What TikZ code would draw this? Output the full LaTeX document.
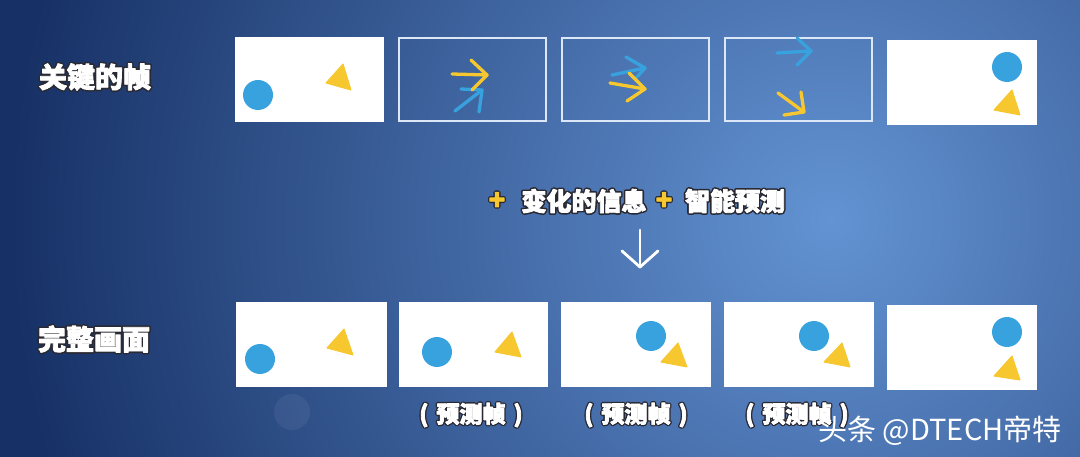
\documentclass[tikz,border=0pt]{standalone}
\usepackage{fontspec}
\newfontfamily\cjk{Noto Sans CJK SC}
\definecolor{bgdark}{HTML}{173166}
\definecolor{bglight}{HTML}{6393D3}
\definecolor{dotblue}{HTML}{38A2DE}
\definecolor{triyel}{HTML}{F6C72E}
\definecolor{framecol}{HTML}{DCE8F8}
% outlined heavy text: dark stroked copy behind, emboldened copy on top
\newcommand{\olt}[3][1 1 1]{\rlap{\special{pdf:literal direct 1 Tr #2 w 1 J 1 j 0.16 0.16 0.2 RG}#3\special{pdf:literal direct 0 Tr}}\special{pdf:literal direct 2 Tr 0.8 w 1 J 1 j #1 RG}#3\special{pdf:literal direct 0 Tr}}
\tikzset{
  keyframe/.style={draw=none, fill=white, inner sep=0pt, outer sep=0pt},
  deltaframe/.style={draw=framecol, line width=2pt, fill=none, inner sep=0pt, outer sep=0pt},
  dot/.style={fill=dotblue},
  tri/.style={fill=triyel, draw=triyel, line width=1pt, line join=round},
  yarrow/.style={draw=triyel, line width=3.3pt, line cap=round, line join=round},
  barrow/.style={draw=dotblue, line width=3.3pt, line cap=round, line join=round},
  biglbl/.style={text=white, font=\cjk\bfseries\fontsize{28}{28}\selectfont, inner sep=0pt},
  midlbl/.style={text=white, font=\cjk\bfseries\fontsize{25}{25}\selectfont, inner sep=0pt},
  predlbl/.style={text=white, font=\cjk\bfseries\fontsize{23}{23}\selectfont, inner sep=0pt},
  pluslbl/.style={text=triyel, font=\cjk\bfseries\fontsize{27}{27}\selectfont, inner sep=0pt},
  wmark/.style={text=white, font=\cjk\fontsize{29}{29}\selectfont, inner sep=0pt},
  downarrow/.style={draw=white, line width=2.8pt, line cap=round, line join=round}
}
\begin{document}
\begin{tikzpicture}[x=1pt, y=-1pt]
\useasboundingbox (0,0) rectangle (1080,457);
\fill[bgdark] (0,0) rectangle (1080,457);
\begin{scope}
\clip (0,0) rectangle (1080,457);
\shade[inner color=bglight, outer color=bgdark] (830,220) circle (820);
\end{scope}
% faint logo
\fill[white, opacity=0.06] (292,412) circle (18);

% top row
\node[keyframe, minimum width=149pt, minimum height=85pt] (k1) at (309.5,79.5) {};
\node[deltaframe, minimum width=147pt, minimum height=83pt] (k2) at (472.5,79.5) {};
\node[deltaframe, minimum width=147pt, minimum height=83pt] (k3) at (635.5,79.5) {};
\node[deltaframe, minimum width=147pt, minimum height=83pt] (k4) at (798.5,79.5) {};
\node[keyframe, minimum width=150pt, minimum height=85pt] (k5) at (962,82.5) {};

% bottom row
\node[keyframe, minimum width=151pt, minimum height=85pt] (f1) at (311.5,344.5) {};
\node[keyframe, minimum width=149pt, minimum height=85pt] (f2) at (473.5,344.5) {};
\node[keyframe, minimum width=150pt, minimum height=85pt] (f3) at (636,344.5) {};
\node[keyframe, minimum width=150pt, minimum height=85pt] (f4) at (799,344.5) {};
\node[keyframe, minimum width=150pt, minimum height=85pt] (f5) at (962,347.5) {};

% key frame 1 contents
\fill[dot] (258,95) circle (15);
\filldraw[tri] (343,64) -- (326,83) -- (351,90) -- cycle;
% key frame 5 contents
\fill[dot] (1007,67) circle (15);
\filldraw[tri] (1012,90) -- (994,110) -- (1020,115) -- cycle;

% delta frame 2 arrows
\draw[barrow] (455,111) -- (482,90);
\draw[barrow] (461,89) -- (482,90) -- (479,112);
\draw[yarrow] (452,74) -- (487,75);
\draw[yarrow] (471,60) -- (487,75) -- (472,90);
% delta frame 3 arrows
\draw[barrow] (612,75) -- (645,68);
\draw[barrow] (626,57) -- (645,68) -- (636,78);
\draw[yarrow] (610,83) -- (645,89);
\draw[yarrow] (629,73) -- (645,89) -- (627,101);
% delta frame 4 arrows
\draw[barrow] (777,53) -- (811,51);
\draw[barrow] (797,38) -- (811,51) -- (797,65);
\draw[yarrow] (778,93) -- (804,112);
\draw[yarrow] (801,92) -- (804,112) -- (784,115);

% bottom frame contents
\fill[dot] (260,359) circle (15);
\filldraw[tri] (344,329) -- (327,348) -- (353,355) -- cycle;
\fill[dot] (437,352) circle (15);
\filldraw[tri] (512,332) -- (495,352) -- (521,357) -- cycle;
\fill[dot] (651,336) circle (15);
\filldraw[tri] (678,343) -- (661,362) -- (687,367) -- cycle;
\fill[dot] (814,336) circle (15);
\filldraw[tri] (842,343) -- (824,362) -- (850,367) -- cycle;
\fill[dot] (1007,332) circle (15);
\filldraw[tri] (1012,356) -- (994,376) -- (1020,380) -- cycle;

% labels
\node[biglbl] (keylbl) at (95,77) {\olt{4}{关键的帧}};
\node[biglbl] (fulllbl) at (94,339) {\olt{4}{完整画面}};
\node[pluslbl] (plus1) at (497,201) {\olt[0.965 0.78 0.18]{3.5}{+}};
\node[midlbl] (chg) at (584,201) {\olt{4}{变化的信息}};
\node[pluslbl] (plus2) at (664,201) {\olt[0.965 0.78 0.18]{3.5}{+}};
\node[midlbl] (pred) at (735,201) {\olt{4}{智能预测}};

% down arrow
\coordinate (dtop) at (640,230);
\coordinate (dbot) at (640,267);
\draw[downarrow] (dtop) -- (dbot);
\draw[downarrow] ([xshift=-18pt, yshift=16pt]dbot) -- (dbot) -- ([xshift=18pt, yshift=16pt]dbot);

% predicted frame labels
\node[predlbl] (p2) at (471,415) {\olt{3.5}{(\hspace{8pt}预测帧\hspace{8pt})}};
\node[predlbl] (p3) at (636,415) {\olt{3.5}{(\hspace{8pt}预测帧\hspace{8pt})}};
\node[predlbl] (p4) at (797,415) {\olt{3.5}{(\hspace{8pt}预测帧\hspace{8pt})}};

% watermark
\node[wmark] (wm) at (940,431) {头条 @DTECH帝特};
\end{tikzpicture}
\end{document}
